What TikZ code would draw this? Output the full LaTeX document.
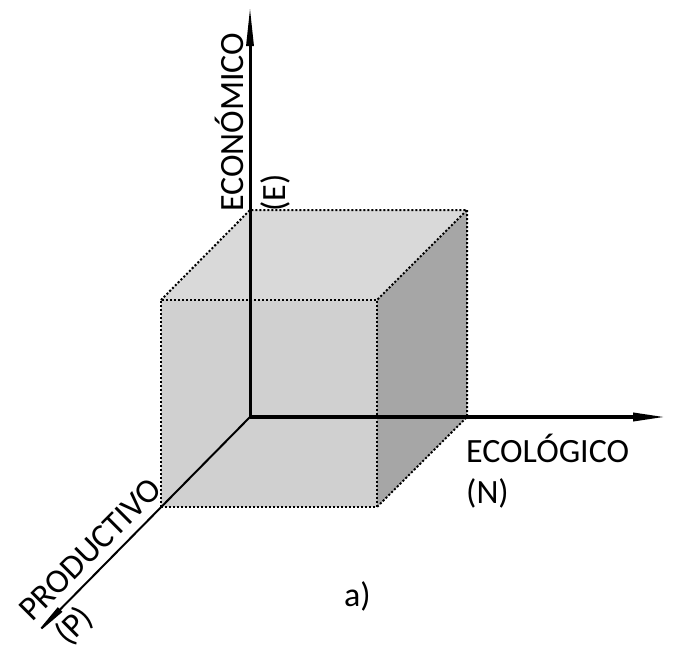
\documentclass[tikz,border=0pt]{standalone}
\usepackage{fontspec}
\setmainfont{Carlito}
\usetikzlibrary{arrows.meta}
\definecolor{frontgray}{HTML}{D0D0D0}
\definecolor{topgray}{HTML}{D9D9D9}
\definecolor{sidegray}{HTML}{A6A6A6}
\begin{document}
\begin{tikzpicture}[x=1pt,y=-1pt,
  edge/.style={line width=2pt, dash pattern=on 2pt off 2pt},
  axisline/.style={line width=3pt},
  lbl/.style={font=\fontsize{34}{41}\selectfont, inner sep=0pt, anchor=base west},
]
\useasboundingbox (0,0) rectangle (675,653);
% cube corners
\coordinate (O) at (250,417);
\coordinate (FTL) at (161,300);
\coordinate (FTR) at (377,300);
\coordinate (FBL) at (161,507);
\coordinate (FBR) at (377,507);
\coordinate (BTL) at (250,210);
\coordinate (BTR) at (467,210);
\coordinate (BBR) at (467,417);
% faces
\fill[frontgray] (FTL) rectangle (FBR);
\fill[topgray] (FTL) -- (BTL) -- (BTR) -- (FTR) -- cycle;
\fill[sidegray] (FTR) -- (BTR) -- (BBR) -- (FBR) -- cycle;
% dotted edges
\draw[edge] (FBL) -- (FTL) -- (FTR) -- (FBR) -- cycle;
\draw[edge] (FTL) -- (BTL) -- (BTR) -- (FTR);
\draw[edge] (BTR) -- (BBR) -- (FBR);
% axes
\coordinate (Etip) at (250,6);
\coordinate (Ntip) at (666,417);
\coordinate (Ptip) at (32,638);
\draw[axisline, -{Triangle[length=40pt,width=7pt]}] (O) -- (Etip);
\draw[line width=3.5pt, -{Triangle[length=33pt,width=8pt]}] (O) -- (Ntip);
\draw[line width=2pt, -{Triangle[length=40pt,width=6pt]}] (O) -- (Ptip);
% labels
\node[lbl, rotate=90] (econ) at (243,212) {ECONÓMICO};
\node[lbl, rotate=90] (econE) at (285,212) {(E)};
\node[lbl] (ecol) at (466,462) {ECOLÓGICO};
\node[lbl] (ecolN) at (466,503) {(N)};
\node[lbl, rotate=45] (prod) at (32,623) {PRODUCTIVO};
\node[lbl, rotate=45] (prodP) at (68,647) {(P)};
\node[lbl] (a) at (344,606) {a)};
\end{tikzpicture}
\end{document}
